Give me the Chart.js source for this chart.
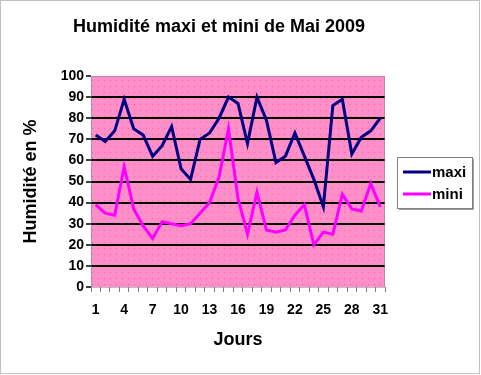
<!DOCTYPE html>
<html><head><meta charset="utf-8">
<script src="https://cdn.jsdelivr.net/npm/chart.js@4/dist/chart.umd.min.js"></script>
<style>html,body{margin:0;padding:0;background:#fff}#wrap{width:481px;height:375px}</style>
</head><body><div id="wrap"><canvas id="c" width="481" height="375"></canvas></div>
<script>
const days = Array.from({length: 31}, (_, i) => String(i + 1));
const maxi = [72, 69, 74, 89, 75, 72, 62, 67, 76, 56, 51, 70, 73, 80, 90, 87, 68, 90, 79, 59, 62, 73, 62, 51, 38, 86, 89, 63, 71, 74, 80];
const mini = [39, 35, 34, 57, 37, 29, 23, 31, 30, 29, 30, 35, 40, 52, 75, 42, 25, 45, 27, 26, 27, 34, 39, 20, 26, 25, 44, 37, 36, 49, 38];
const yTicks = [0, 10, 20, 30, 40, 50, 60, 70, 80, 90, 100];
const chartTitle = 'Humidité maxi et mini de Mai 2009';
const FONT = "'Liberation Sans', Arial, sans-serif";

function makePattern(ctx) {
  const p = document.createElement('canvas');
  p.width = 6; p.height = 6;
  const g = p.getContext('2d');
  g.fillStyle = '#ff8fc8'; g.fillRect(0, 0, 6, 6);
  g.fillStyle = '#ff5aa8'; g.fillRect(2, 2, 1, 1);
  return ctx.createPattern(p, 'repeat');
}

const bgPlugin = {
  id: 'bg',
  beforeDraw(chart) {
    const {ctx, chartArea: a} = chart;
    ctx.save();
    ctx.fillStyle = makePattern(ctx);
    ctx.fillRect(a.left, a.top, a.right - a.left, a.bottom - a.top);
    ctx.restore();
  },
  afterDraw(chart) {
    const {ctx, chartArea: a} = chart;
    ctx.save();
    // title
    ctx.fillStyle = '#000';
    ctx.font = 'bold 18px ' + FONT;
    ctx.textAlign = 'center';
    ctx.textBaseline = 'middle';
    ctx.fillText(chartTitle, 219, 27);
    // borders
    ctx.strokeStyle = '#808080';
    ctx.lineWidth = 1;
    ctx.setLineDash([1, 1]);
    ctx.strokeRect(a.left + 0.5, a.top + 0.5, a.right - a.left - 1, a.bottom - a.top);
    ctx.strokeRect(0.5, 0.5, chart.width - 2, chart.height - 2);
    ctx.setLineDash([]);
    // legend
    const lx = 397, ly = 157, lw = 75, lh = 51;
    ctx.fillStyle = '#fff';
    ctx.fillRect(lx, ly, lw, lh);
    ctx.strokeStyle = '#808080';
    ctx.strokeRect(lx + 0.5, ly + 0.5, lw, lh);
    ctx.strokeStyle = '#a0a0a0';
    ctx.beginPath(); ctx.moveTo(lx + lw + 1.5, ly + 2); ctx.lineTo(lx + lw + 1.5, ly + lh + 1.5); ctx.lineTo(lx + 2, ly + lh + 1.5); ctx.stroke();
    ctx.font = 'bold 15px ' + FONT;
    ctx.textBaseline = 'middle';
    ctx.textAlign = 'left';
    chart.data.datasets.forEach((ds, i) => {
      const y = ly + 15 + i * 22;
      ctx.strokeStyle = ds.borderColor;
      ctx.lineWidth = 3;
      ctx.beginPath(); ctx.moveTo(403, y); ctx.lineTo(431, y); ctx.stroke();
      ctx.fillStyle = '#000';
      ctx.fillText(ds.label, 432, y + 1);
    });
    ctx.restore();
  }
};

new Chart(document.getElementById('c'), {
  type: 'line',
  data: {
    labels: days,
    datasets: [
      {label: 'maxi', data: maxi, borderColor: '#000080', borderWidth: 3, pointRadius: 0, tension: 0, fill: false},
      {label: 'mini', data: mini, borderColor: '#ff00ff', borderWidth: 3, pointRadius: 0, tension: 0, fill: false}
    ]
  },
  options: {
    responsive: false,
    animation: false,
    layout: {padding: {left: 0, right: 96, top: 76, bottom: 0}},
    plugins: {
      legend: {display: false},
      tooltip: {enabled: false},
      title: {display: false}
    },
    scales: {
      x: {
        offset: true,
        afterFit(s) { s.height = 88; },
        grid: {offset: true, drawOnChartArea: false, tickLength: 5, tickColor: '#808080', lineWidth: 1},
        border: {display: false},
        ticks: {
          autoSkip: false, maxRotation: 0, padding: 10, color: '#000',
          font: {family: FONT, size: 14, weight: 'bold'},
          callback(v, i) { return i % 3 === 0 ? days[i] : ''; }
        },
        title: {display: true, text: 'Jours', color: '#000', font: {family: FONT, size: 18, weight: 'bold'}, padding: {top: 0, bottom: 24}}
      },
      y: {
        min: 0, max: 100,
        afterFit(s) { s.width = 91; },
        afterBuildTicks(s) { s.ticks = yTicks.map(v => ({value: v})); },
        grid: {
          color: (c) => (c.tick && (c.tick.value === 0 || c.tick.value === 100)) ? 'rgba(0,0,0,0)' : '#000',
          lineWidth: 2, tickLength: 5, tickColor: '#404040', drawTicks: true
        },
        border: {display: false},
        ticks: {padding: 2, color: '#000', font: {family: FONT, size: 14, weight: 'bold'}},
        title: {display: true, text: 'Humidité en %', color: '#000', font: {family: FONT, size: 18, weight: 'bold'}, padding: {top: 20, bottom: 0}}
      }
    }
  },
  plugins: [bgPlugin]
});
</script>
</body></html>
